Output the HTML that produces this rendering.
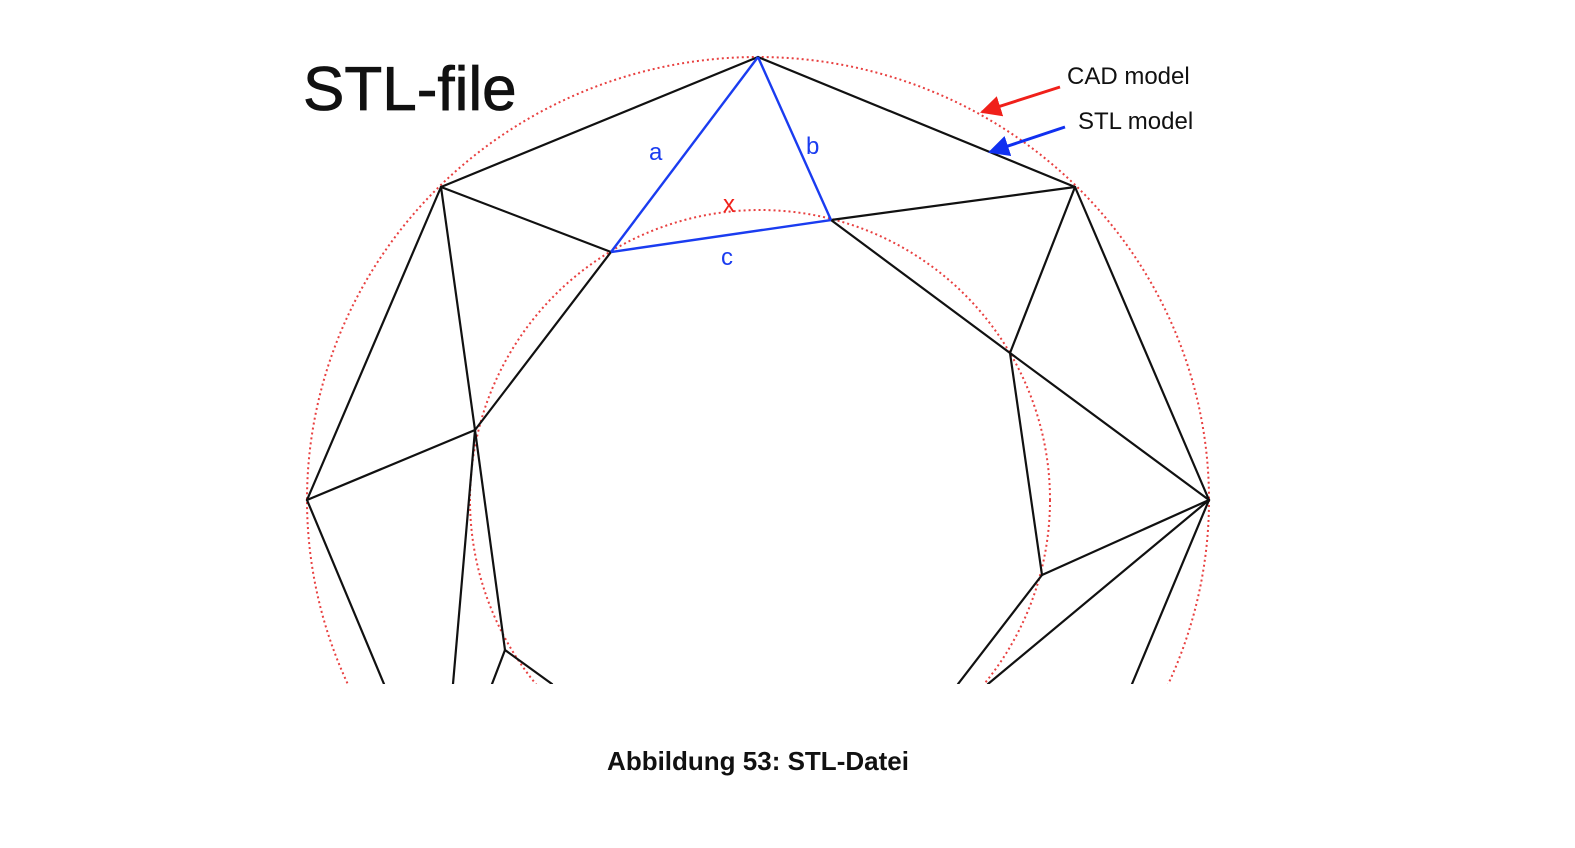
<!DOCTYPE html>
<html>
<head>
<meta charset="utf-8">
<style>
  html,body{margin:0;padding:0;background:#fff;width:1575px;height:848px;overflow:hidden;position:relative;}
  svg{display:block;position:absolute;left:0;top:0;overflow:hidden;}
  text{font-family:"Liberation Sans",sans-serif;}
</style>
</head>
<body>
<svg width="1575" height="848" viewBox="0 0 1575 848">
  <defs>
    <clipPath id="clip"><rect x="0" y="0" width="1575" height="684"/></clipPath>
    <marker id="ar" viewBox="0 0 10 10" refX="9" refY="5" markerWidth="7" markerHeight="7" orient="auto"><path d="M0,0 L10,5 L0,10 z" fill="#f0201a"/></marker>
    <marker id="ab" viewBox="0 0 10 10" refX="9" refY="5" markerWidth="7" markerHeight="7" orient="auto"><path d="M0,0 L10,5 L0,10 z" fill="#1030f0"/></marker>
  </defs>
  <g clip-path="url(#clip)">
    <ellipse cx="758" cy="500" rx="451" ry="443" fill="none" stroke="#e84040" stroke-width="2" stroke-dasharray="2,3"/>
    <circle cx="760" cy="500" r="290" fill="none" stroke="#e84040" stroke-width="2" stroke-dasharray="2,3"/>
    <g stroke="#111" stroke-width="2.2" fill="none" stroke-linecap="round">
      <line x1="758" y1="57" x2="441" y2="187"/>
      <line x1="758" y1="57" x2="1075" y2="187"/>
      <line x1="441" y1="187" x2="611" y2="252"/>
      <line x1="441" y1="187" x2="475" y2="430"/>
      <line x1="441" y1="187" x2="307" y2="500"/>
      <line x1="831" y1="220" x2="1075" y2="187"/>
      <line x1="831" y1="220" x2="1010" y2="353"/>
      <line x1="1075" y1="187" x2="1010" y2="353"/>
      <line x1="1075" y1="187" x2="1209" y2="500"/>
      <line x1="1010" y1="353" x2="1209" y2="500"/>
      <line x1="1010" y1="353" x2="1042" y2="575"/>
      <line x1="1209" y1="500" x2="1042" y2="575"/>
      <line x1="1209" y1="500" x2="988" y2="684"/>
      <line x1="1209" y1="500" x2="1132" y2="684"/>
      <line x1="1042" y1="575" x2="958" y2="684"/>
      <line x1="611" y1="252" x2="475" y2="430"/>
      <line x1="475" y1="430" x2="307" y2="500"/>
      <line x1="475" y1="430" x2="505" y2="650"/>
      <line x1="475" y1="430" x2="453" y2="684"/>
      <line x1="307" y1="500" x2="384" y2="684"/>
      <line x1="505" y1="650" x2="552" y2="684"/>
      <line x1="505" y1="650" x2="492" y2="684"/>
    </g>
    <g stroke="#1a3cf0" stroke-width="2.4" fill="none">
      <line x1="758" y1="57" x2="611" y2="252"/>
      <line x1="758" y1="57" x2="831" y2="220"/>
      <line x1="611" y1="252" x2="831" y2="220"/>
    </g>
  </g>
  <text x="649" y="160" font-size="24" fill="#1a3cf0">a</text>
  <text x="806" y="154" font-size="24" fill="#1a3cf0">b</text>
  <text x="721" y="265" font-size="24" fill="#1a3cf0">c</text>
  <text x="723" y="212" font-size="24" fill="#f0201a">x</text>
  <text x="303" y="110" font-size="62" fill="#111" stroke="#111" stroke-width="0.8">STL-file</text>
  <text x="1067" y="84" font-size="24" fill="#111">CAD model</text>
  <text x="1078" y="129" font-size="24" fill="#111">STL model</text>
  <line x1="1060" y1="87" x2="982" y2="112" stroke="#f0201a" stroke-width="3" marker-end="url(#ar)"/>
  <line x1="1065" y1="127" x2="990" y2="152" stroke="#1030f0" stroke-width="3" marker-end="url(#ab)"/>
  <text x="758" y="770" font-size="26" font-weight="bold" text-anchor="middle" fill="#111">Abbildung 53: STL-Datei</text>
</svg>
</body>
</html>
